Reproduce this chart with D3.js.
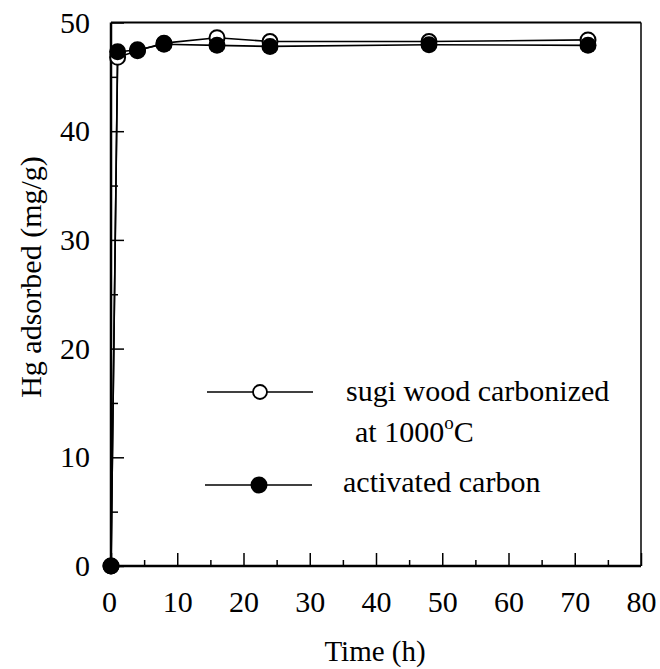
<!DOCTYPE html>
<html>
<head>
<meta charset="utf-8">
<script src="https://cdn.jsdelivr.net/npm/d3@7"></script>
<style>
  body { margin: 0; background: #fff; }
  svg text { font-family: "Liberation Serif", "Times New Roman", Times, Tinos, "Nimbus Roman", "DejaVu Serif", serif !important; fill: #000; }
</style>
</head>
<body>
<div id="chart"></div>
<script>
// values
const timeH = [0, 1, 4, 8, 16, 24, 48, 72];
const sugiWood = [0, 46.8, 47.4, 48.1, 48.6, 48.25, 48.25, 48.4];
const activatedCarbon = [0, 47.3, 47.5, 48.0, 47.9, 47.8, 47.95, 47.9];

const xTicks = [0, 10, 20, 30, 40, 50, 60, 70, 80];
const xMinorTicks = [5, 15, 25, 35, 45, 55, 65, 75];
const yTicks = [0, 10, 20, 30, 40, 50];
const yMinorTicks = [5, 15, 25, 35, 45];

const legendLabels = ["sugi wood carbonized", "at 1000", "activated carbon"];

const w = 660;
const h = 669;
const serif = '"Liberation Serif", "Times New Roman", Times, Tinos, "Nimbus Roman", "DejaVu Serif", serif';

const svg = d3
  .select("#chart")
  .append("svg")
  .attr("width", w)
  .attr("height", h)
  .attr("font-family", serif);

svg.append("rect").attr("width", w).attr("height", h).attr("fill", "#fff");

const xScale = d3.scaleLinear().domain([0, 80]).range([111, 641]);
const yScale = d3.scaleLinear().domain([0, 50]).range([566, 22.5]);

// major ticks with labels, pointing inward
const xAxis = d3
  .axisBottom(xScale)
  .tickValues(xTicks)
  .tickFormat(d3.format("d"))
  .tickSizeInner(-13)
  .tickSizeOuter(0)
  .tickPadding(25);

const yAxis = d3
  .axisLeft(yScale)
  .tickValues(yTicks)
  .tickFormat(d3.format("d"))
  .tickSizeInner(-13)
  .tickSizeOuter(0)
  .tickPadding(21);

const gx = svg
  .append("g")
  .attr("transform", `translate(0, ${yScale(0)})`)
  .call(xAxis)
  .attr("font-family", serif)
  .attr("font-size", 30);
gx.select(".domain").remove();
gx.selectAll("line").attr("stroke-width", 1.5);
gx.selectAll("text")
  .filter((d) => d === 0)
  .attr("dx", -2);

const gy = svg
  .append("g")
  .attr("transform", `translate(${xScale(0)}, 0)`)
  .call(yAxis)
  .attr("font-family", serif)
  .attr("font-size", 30);
gy.select(".domain").remove();
gy.selectAll("line").attr("stroke-width", 1.5);

// minor ticks
const gxm = svg
  .append("g")
  .attr("transform", `translate(0, ${yScale(0)})`)
  .call(d3.axisBottom(xScale).tickValues(xMinorTicks).tickFormat("").tickSizeInner(-6).tickSizeOuter(0));
gxm.select(".domain").remove();
gxm.selectAll("line").attr("stroke-width", 1.5);

const gym = svg
  .append("g")
  .attr("transform", `translate(${xScale(0)}, 0)`)
  .call(d3.axisLeft(yScale).tickValues(yMinorTicks).tickFormat("").tickSizeInner(-7).tickSizeOuter(0));
gym.select(".domain").remove();
gym.selectAll("line").attr("stroke-width", 1.5);

// frame
const frame = svg.append("g").attr("stroke", "#000").attr("fill", "none");
frame.append("line")
  .attr("x1", xScale(0)).attr("x2", xScale(80))
  .attr("y1", yScale(0)).attr("y2", yScale(0))
  .attr("stroke-width", 2.5);
frame.append("line")
  .attr("x1", xScale(0)).attr("x2", xScale(0))
  .attr("y1", yScale(0)).attr("y2", yScale(50))
  .attr("stroke-width", 2.5);
frame.append("line")
  .attr("x1", xScale(0)).attr("x2", xScale(80))
  .attr("y1", yScale(50)).attr("y2", yScale(50))
  .attr("stroke-width", 2);
frame.append("line")
  .attr("x1", xScale(80)).attr("x2", xScale(80))
  .attr("y1", yScale(0)).attr("y2", yScale(50))
  .attr("stroke-width", 1.5);

// axis titles
svg.append("text")
  .attr("x", 375)
  .attr("y", 661)
  .attr("text-anchor", "middle")
  .attr("font-size", 29)
  .text("Time (h)");

svg.append("text")
  .attr("transform", "translate(41, 277) rotate(-90)")
  .attr("text-anchor", "middle")
  .attr("font-size", 30)
  .text("Hg adsorbed (mg/g)");

// series
const line = d3
  .line()
  .x((d) => xScale(d[0]))
  .y((d) => yScale(d[1]));

const sugiPts = timeH.map((t, i) => [t, sugiWood[i]]);
const actPts = timeH.map((t, i) => [t, activatedCarbon[i]]);

const plot = svg.append("g");

plot.append("path")
  .datum(sugiPts)
  .attr("fill", "none")
  .attr("stroke", "#000")
  .attr("stroke-width", 1.6)
  .attr("d", line);

plot.append("path")
  .datum(actPts)
  .attr("fill", "none")
  .attr("stroke", "#000")
  .attr("stroke-width", 1.6)
  .attr("d", line);

plot.selectAll(".open")
  .data(sugiPts)
  .enter()
  .append("circle")
  .attr("class", "open")
  .attr("cx", (d) => xScale(d[0]))
  .attr("cy", (d) => yScale(d[1]))
  .attr("r", 7.5)
  .attr("fill", "#fff")
  .attr("stroke", "#000")
  .attr("stroke-width", 2);

plot.selectAll(".filled")
  .data(actPts)
  .enter()
  .append("circle")
  .attr("class", "filled")
  .attr("cx", (d) => xScale(d[0]))
  .attr("cy", (d) => yScale(d[1]))
  .attr("r", 8.5)
  .attr("fill", "#000");

// legend
const legend = svg.append("g");

legend.append("line")
  .attr("x1", 207).attr("x2", 313)
  .attr("y1", 392).attr("y2", 392)
  .attr("stroke", "#000").attr("stroke-width", 1.3);
legend.append("circle")
  .attr("cx", 260).attr("cy", 392).attr("r", 7)
  .attr("fill", "#fff").attr("stroke", "#000").attr("stroke-width", 1.8);
legend.append("text")
  .attr("x", 346).attr("y", 401)
  .attr("font-size", 30)
  .text(legendLabels[0]);

const t2 = legend.append("text")
  .attr("x", 355).attr("y", 442)
  .attr("font-size", 30)
  .text(legendLabels[1]);
t2.append("tspan").attr("dy", -13).attr("font-size", 19).text("o");
t2.append("tspan").attr("dy", 13).text("C");

legend.append("line")
  .attr("x1", 205).attr("x2", 312)
  .attr("y1", 485).attr("y2", 485)
  .attr("stroke", "#000").attr("stroke-width", 1.3);
legend.append("circle")
  .attr("cx", 259).attr("cy", 485).attr("r", 8.5)
  .attr("fill", "#000");
legend.append("text")
  .attr("x", 343).attr("y", 492)
  .attr("font-size", 30)
  .text(legendLabels[2]);
</script>
</body>
</html>
